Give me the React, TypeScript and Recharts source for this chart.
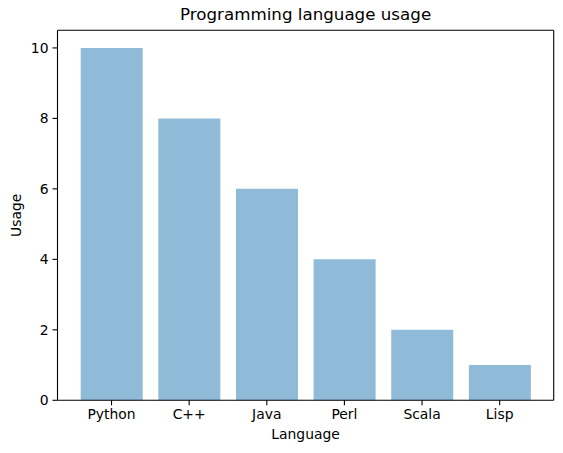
import { BarChart, Bar, XAxis, YAxis, Label } from "recharts";

const languages = ["Python", "C++", "Java", "Perl", "Scala", "Lisp"];
const usage = [10, 8, 6, 4, 2, 1];
const yTicks = [0, 2, 4, 6, 8, 10];

const data = languages.map((language, i) => ({ language, usage: usage[i] }));

const font = "DejaVu Sans, sans-serif";
const tickStyle = { fill: "#000", fontSize: 13.9, fontFamily: font };
const spine = { stroke: "#000", strokeWidth: 1.1 };

export default function App() {
  return (
    <div style={{ position: "absolute", left: 0, top: 0, width: 563, height: 453, background: "#fff" }}>
      <BarChart
        width={563}
        height={453}
        data={data}
        margin={{ top: 29.3, right: 8.3, left: 7.5, bottom: 22.7 }}
        barSize={62}
      >
        <XAxis
          dataKey="language"
          height={30}
          padding={{ left: 15.2, right: 15.2 }}
          tick={tickStyle}
          tickSize={5}
          tickMargin={4}
          stroke="#000"
          axisLine={spine}
          tickLine={spine}
        >
          <Label
            content={() => (
              <text x={305.6} y={438.5} textAnchor="middle" fontSize={13.9} fontFamily={font} fill="#000">
                Language
              </text>
            )}
          />
        </XAxis>
        <YAxis
          width={50}
          domain={[0, 10.5]}
          ticks={yTicks}
          tick={tickStyle}
          tickSize={5}
          tickMargin={4}
          stroke="#000"
          axisLine={spine}
          tickLine={spine}
        >
          <Label
            content={() => (
              <text
                x={21.5}
                y={215.3}
                transform="rotate(-90 21.5 215.3)"
                textAnchor="middle"
                fontSize={13.9}
                fontFamily={font}
                fill="#000"
              >
                Usage
              </text>
            )}
          />
        </YAxis>
        {/* top and right spines */}
        <XAxis xAxisId="top" dataKey="language" orientation="top" height={1} padding={{ left: 15.2, right: 15.2 }} tick={false} tickLine={false} axisLine={spine} />
        <YAxis yAxisId="right" orientation="right" width={1} domain={[0, 10.5]} tick={false} tickLine={false} axisLine={spine} />
        <Bar dataKey="usage" fill="#8fbbd9" isAnimationActive={false} />
        <text x={305.6} y={20} textAnchor="middle" fontSize={16.7} fontFamily={font} fill="#000">
          Programming language usage
        </text>
      </BarChart>
    </div>
  );
}
